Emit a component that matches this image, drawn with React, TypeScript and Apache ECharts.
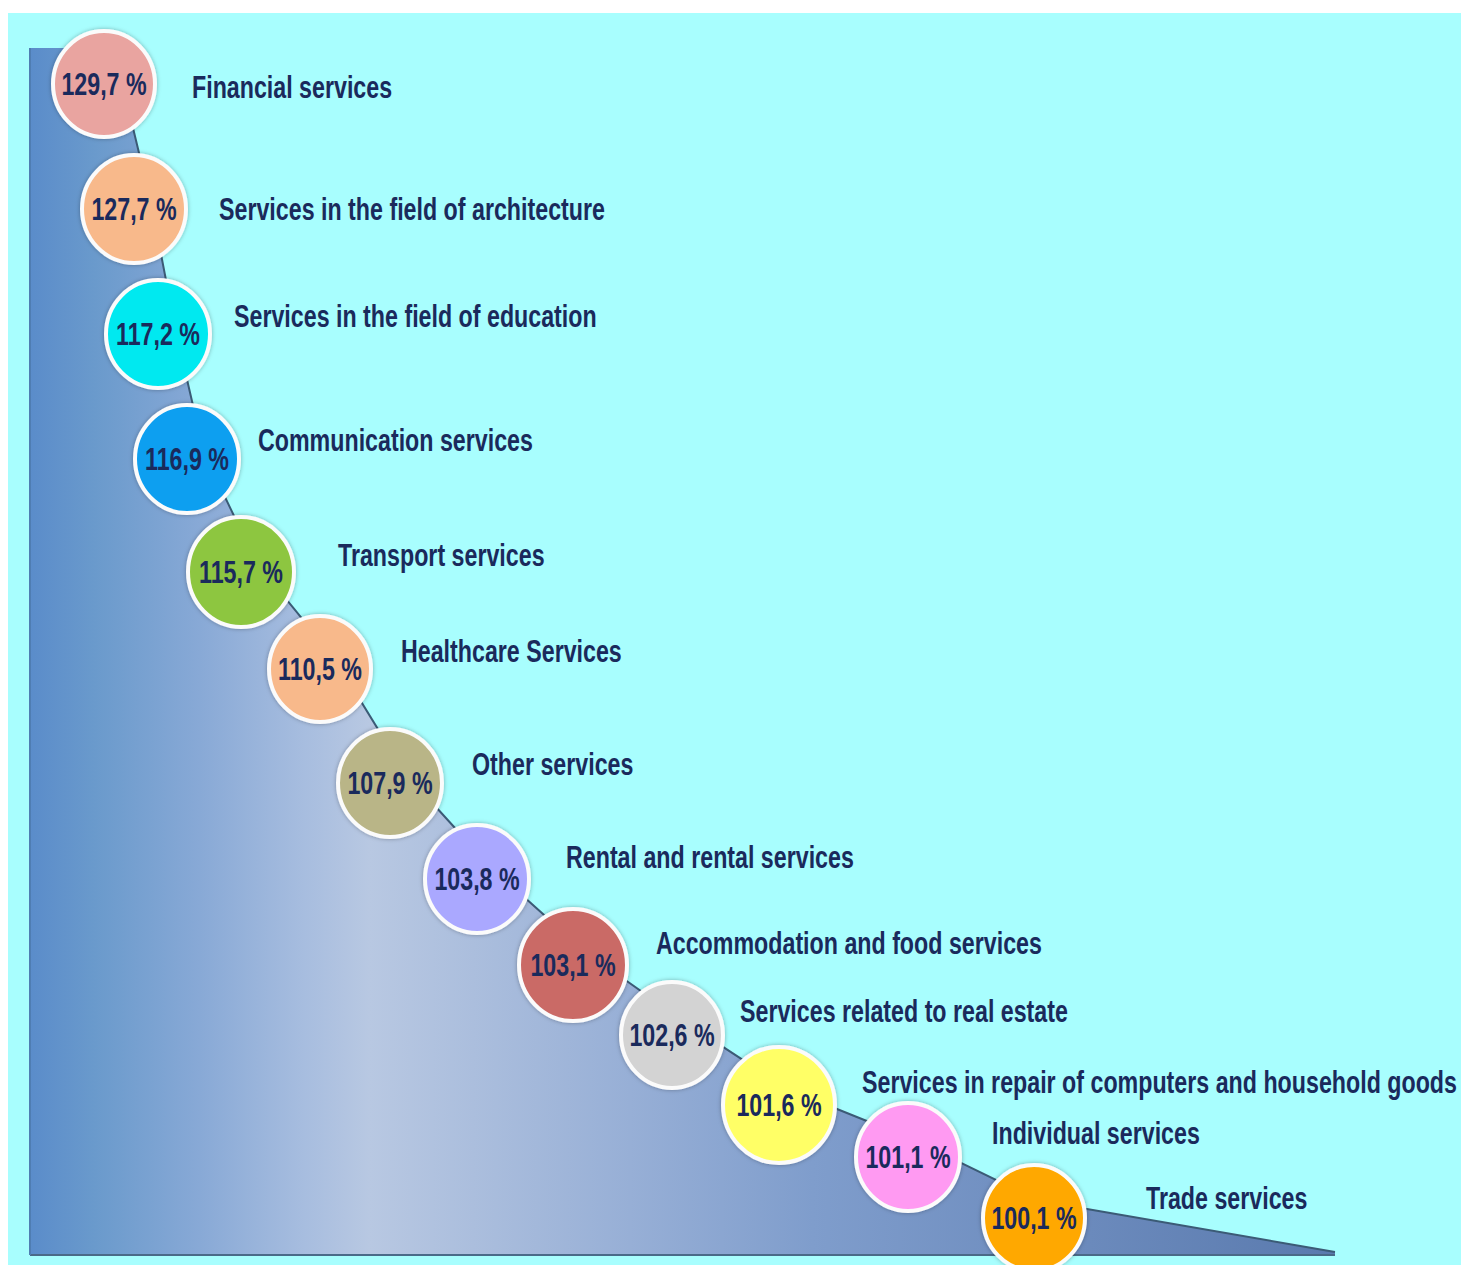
import React, { useEffect, useRef } from 'react';
import * as echarts from 'echarts';

// ---- data ----
const categories = [
  'Financial services',
  'Services in the field of architecture',
  'Services in the field of education',
  'Communication services',
  'Transport services',
  'Healthcare Services',
  'Other services',
  'Rental and rental services',
  'Accommodation and food services',
  'Services related to real estate',
  'Services in repair of computers and household goods',
  'Individual services',
  'Trade services',
];
const values = [129.7, 127.7, 117.2, 116.9, 115.7, 110.5, 107.9, 103.8, 103.1, 102.6, 101.6, 101.1, 100.1];

// ---- styles ----
const bubbleColors = [
  '#e9a4a0', '#f8b98b', '#00e9f0', '#0a9ff0', '#8dc640', '#f8b98b', '#b9b587',
  '#aaa8ff', '#ca6a66', '#d3d3d3', '#ffff66', '#ff9af2', '#ffa800',
];

// ---- layout (canvas pixel slots of the infographic) ----
const bubbleX = [104, 134, 158, 187, 241, 320, 390, 477, 573, 672, 779, 908, 1034];
const bubbleY = [84, 209, 334, 459, 572, 669, 783, 879, 965, 1035, 1105, 1157, 1218];
const bubbleR = [51, 52, 52, 52, 53, 51, 52, 52, 54, 51, 56, 52, 51];
const labelX = [192, 219, 234, 258, 338, 401, 472, 566, 656, 740, 862, 992, 1146];
const labelY = [87, 209, 316, 440, 555, 651, 764, 857, 943, 1011, 1082, 1133, 1198];
const shapeLeft = 30;
const shapeTop = 48;
const shapeTip: [number, number] = [1335, 1252];
const shapeBottom = 1255;

const FONT_FAMILY = "'Liberation Sans', Arial, sans-serif";
const TEXT_COLOR = '#1a2a5c';
const SCALE_X = 0.83;
const SCALE_Y = 1.1;

function buildEdge(): number[][] {
  const pts: number[][] = [];
  const n = bubbleX.length;
  for (let i = 0; i < n; i++) {
    const px = i > 0 ? bubbleX[i - 1] : bubbleX[i];
    const py = i > 0 ? bubbleY[i - 1] : bubbleY[i] - 125;
    const nx = i < n - 1 ? bubbleX[i + 1] : shapeTip[0];
    const ny = i < n - 1 ? bubbleY[i + 1] : shapeTip[1];
    let dx = nx - px;
    let dy = ny - py;
    const len = Math.sqrt(dx * dx + dy * dy);
    dx /= len;
    dy /= len;
    const off = 18;
    pts.push([bubbleX[i] + dy * off, bubbleY[i] - dx * off]);
  }
  pts.push([shapeTip[0], shapeTip[1]]);
  return pts;
}

function textEl(x: number, y: number, text: string, align: string) {
  return {
    type: 'text',
    x,
    y,
    scaleX: SCALE_X,
    scaleY: SCALE_Y,
    style: {
      text,
      fill: TEXT_COLOR,
      fontFamily: FONT_FAMILY,
      fontWeight: 'bold',
      fontSize: 28,
      align,
      textAlign: align,
      verticalAlign: 'middle',
      textVerticalAlign: 'middle',
    },
  };
}

export default function App() {
  const ref = useRef<HTMLDivElement>(null);
  useEffect(() => {
    if (!ref.current) return;
    const chart = echarts.init(ref.current, undefined, { renderer: 'svg' });
    const edge = buildEdge();
    const areaPts = [[shapeLeft, shapeTop], [72, shapeTop], ...edge];
    const option: any = {
      animation: false,
      backgroundColor: '#ffffff',
      graphic: [
        {
          type: 'rect',
          z: 0,
          shape: { x: 8, y: 13, width: 1453, height: 1252 },
          style: { fill: '#a8fefe' },
        },
      ],
      grid: { left: 0, right: 0, top: 0, bottom: 1265 - shapeBottom },
      xAxis: { type: 'value', min: 0, max: 1461, show: false },
      yAxis: { type: 'value', min: 0, max: shapeBottom, inverse: true, show: false },
      series: [
        {
          type: 'line',
          data: areaPts,
          symbol: 'none',
          z: 1,
          lineStyle: { width: 0 },
          areaStyle: {
            origin: 'end',
            opacity: 1,
            color: {
              type: 'linear',
              x: shapeLeft, y: 0, x2: shapeTip[0], y2: 0, global: true,
              colorStops: [
                { offset: 0, color: '#5a8cca' },
                { offset: 0.05, color: '#6a9acc' },
                { offset: 0.13, color: '#88a9d6' },
                { offset: 0.21, color: '#a7bddf' },
                { offset: 0.26, color: '#b8c8e2' },
                { offset: 0.34, color: '#abbedd' },
                { offset: 0.46, color: '#97afd6' },
                { offset: 0.6, color: '#7f9dcc' },
                { offset: 0.8, color: '#6c8bbd' },
                { offset: 1, color: '#5a7aae' },
              ],
            },
          },
        },
        {
          type: 'line',
          data: edge,
          symbol: 'none',
          z: 2,
          lineStyle: { color: '#3b5b76', width: 2 },
        },
        {
          type: 'line',
          data: [[shapeLeft, shapeBottom], [shapeTip[0], shapeBottom]],
          symbol: 'none',
          z: 2,
          lineStyle: { color: '#4a6a88', width: 2 },
        },
        {
          type: 'line',
          data: [[shapeLeft, shapeTop], [shapeLeft, shapeBottom]],
          symbol: 'none',
          z: 2,
          lineStyle: { color: '#4f7db2', width: 2 },
        },
        {
          type: 'custom',
          clip: false,
          z: 5,
          data: values.map((v, i) => [bubbleX[i], bubbleY[i], v, labelX[i], labelY[i]]),
          renderItem: (params: any, api: any) => {
            const i = params.dataIndex;
            const c = api.coord([api.value(0), api.value(1)]);
            const l = api.coord([api.value(3), api.value(4)]);
            const v = api.value(2) as number;
            const r = bubbleR[i];
            return {
              type: 'group',
              children: [
                {
                  type: 'ellipse',
                  shape: { cx: c[0], cy: c[1], rx: r, ry: r + 2 },
                  style: {
                    fill: bubbleColors[i],
                    stroke: '#fbfbfb',
                    lineWidth: 4,
                    shadowBlur: 4,
                    shadowColor: 'rgba(0,0,0,0.3)',
                  },
                },
                textEl(c[0], c[1], v.toFixed(1).replace('.', ',') + ' %', 'center'),
                textEl(l[0], l[1], categories[i], 'left'),
              ],
            };
          },
        },
      ],
    };
    chart.setOption(option);
    return () => chart.dispose();
  }, []);
  return (
    <div
      ref={ref}
      style={{ position: 'fixed', left: 0, top: 0, width: '1461px', height: '1265px' }}
    />
  );
}
